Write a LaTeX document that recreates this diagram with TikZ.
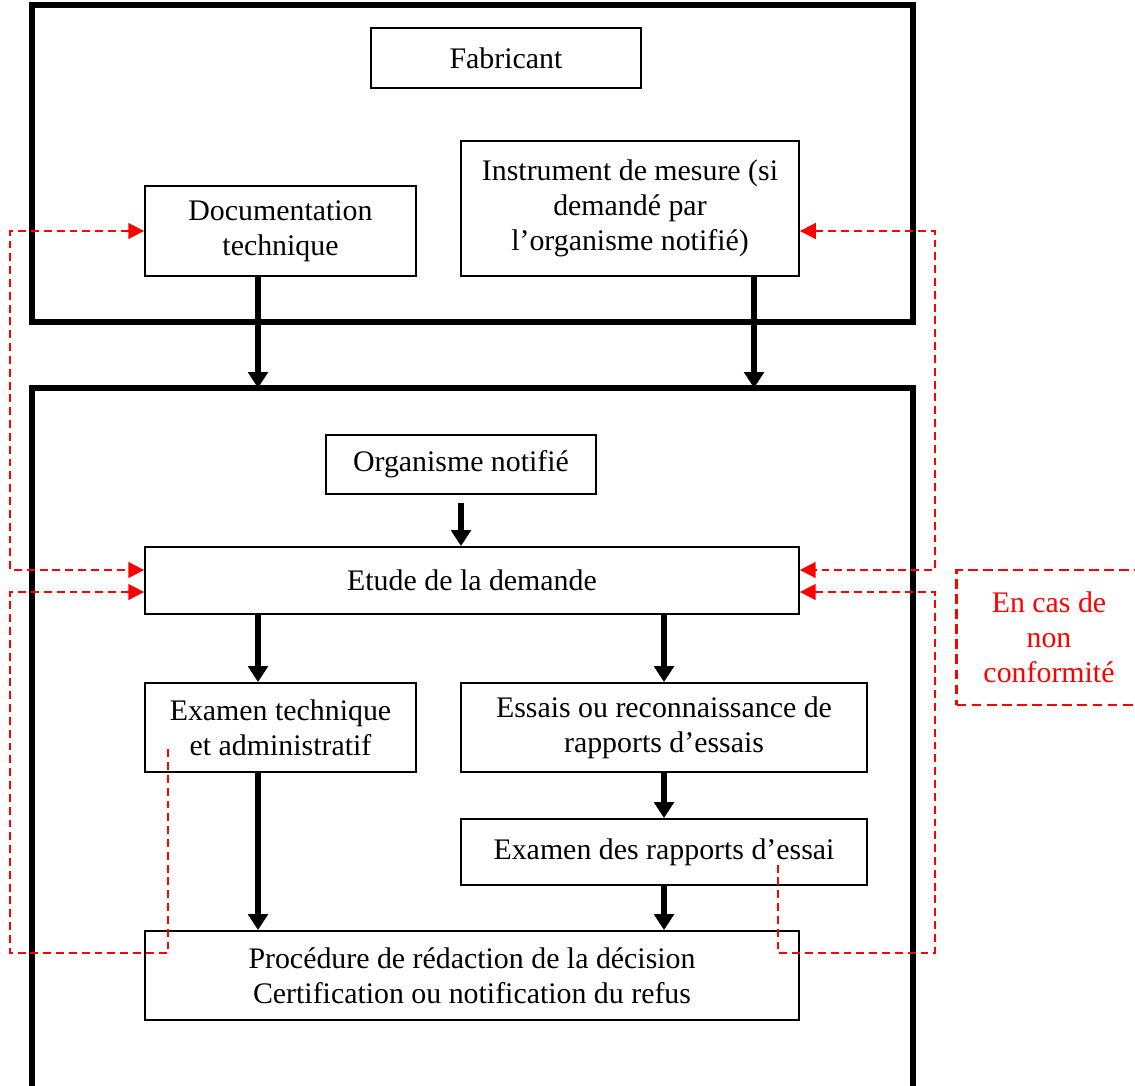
\documentclass[tikz,border=0pt]{standalone}
\usepackage{fontspec}
\setmainfont{Liberation Serif}
\usetikzlibrary{arrows.meta}

\tikzset{
  box/.style={draw, line width=1.1pt, align=center, inner sep=2pt,
    font=\fontsize{17}{20}\selectfont},
  frame/.style={line width=3.4pt},
  flow/.style={line width=3pt, -{Triangle[width=11pt,length=9pt]}},
  back/.style={red, line width=1.1pt, dash pattern=on 4.5pt off 2.8pt,
    >={Triangle[width=9pt,length=9pt]}},
  note/.style={draw=red, text=red, line width=1.6pt, dash pattern=on 5.6pt off 3pt,
    align=center, font=\fontsize{17}{20}\selectfont},
}

\begin{document}
\begin{tikzpicture}[x=0.02cm, y=-0.02cm]
  \useasboundingbox (0,0) rectangle (1135,1085);

  % frames
  \coordinate (topNW) at (32,5);
  \coordinate (topSE) at (913,322);
  \coordinate (lowNW) at (32,388);
  \coordinate (lowNE) at (913,388);
  \coordinate (lowSW) at (32,1095);
  \coordinate (lowSE) at (913,1095);
  \draw[frame] (topNW) rectangle (topSE);
  \draw[frame] (lowSW) -- (lowNW) -- (lowNE) -- (lowSE);

  % boxes
  \node[box, minimum width=5.4cm, minimum height=1.2cm] (fab) at (506,58) {Fabricant};
  \node[box, minimum width=5.42cm, minimum height=1.8cm] (doc) at (280.5,231)
    {Documentation\\technique};
  \node[box, minimum width=6.76cm, minimum height=2.7cm] (instr) at (630,208.5)
    {Instrument de mesure (si\\demandé par\\l’organisme notifié)};
  \node[box, minimum width=5.4cm, minimum height=1.18cm] (org) at (461,464.5)
    {Organisme notifié};
  \node[box, minimum width=13.08cm, minimum height=1.34cm] (etude) at (472,580.5)
    {Etude de la demande};
  \node[box, minimum width=5.42cm, minimum height=1.78cm] (exam) at (280.5,727.5)
    {Examen technique\\et administratif};
  \node[box, minimum width=8.12cm, minimum height=1.78cm] (essais) at (664,727.5)
    {Essais ou reconnaissance de\\rapports d’essais};
  \node[box, minimum width=8.12cm, minimum height=1.32cm] (rapp) at (664,852)
    {Examen des rapports d’essai};
  \node[box, minimum width=13.08cm, minimum height=1.78cm] (proc) at (472,975.5)
    {Procédure de rédaction de la décision\\Certification ou notification du refus};
  \node[note, minimum width=3.7cm, minimum height=2.7cm] (cas) at (1049,637.5)
    {En cas de\\non\\conformité};

  % columns and rows
  \coordinate (colA) at (258,0);
  \coordinate (colB) at (754,0);
  \coordinate (colC) at (664,0);
  \coordinate (L) at (10,0);
  \coordinate (R) at (935,0);
  \coordinate (eUp) at (0,570);
  \coordinate (eLo) at (0,592);
  \coordinate (row) at (0,953);
  \coordinate (exFoot) at (168,748);
  \coordinate (raFoot) at (778,862);

  % flow
  \draw[flow] (doc.south -| colA) -- (lowNW -| colA);
  \draw[flow] (instr.south -| colB) -- (lowNW -| colB);
  \draw[flow, shorten <=0.16cm] (org.south) -- (org.south |- etude.north);
  \draw[flow] (etude.south -| colA) -- (exam.north -| colA);
  \draw[flow] (etude.south -| colC) -- (essais.north -| colC);
  \draw[flow] (essais.south) -- (rapp.north);
  \draw[flow] (exam.south -| colA) -- (proc.north -| colA);
  \draw[flow] (rapp.south) -- (rapp.south |- proc.north);

  % non conformite
  \draw[back, <->] (doc.west) -- (doc.west -| L) -- (L |- eUp) -- (etude.west |- eUp);
  \draw[back, <->] (instr.east |- doc.west) -- (R |- doc.west) -- (R |- eUp) -- (etude.east |- eUp);
  \draw[back, <-] (etude.west |- eLo) -- (L |- eLo) -- (L |- row) -- (exFoot |- row) -- (exFoot);
  \draw[back, <-] (etude.east |- eLo) -- (R |- eLo) -- (R |- row) -- (raFoot |- row) -- (raFoot);
\end{tikzpicture}
\end{document}
